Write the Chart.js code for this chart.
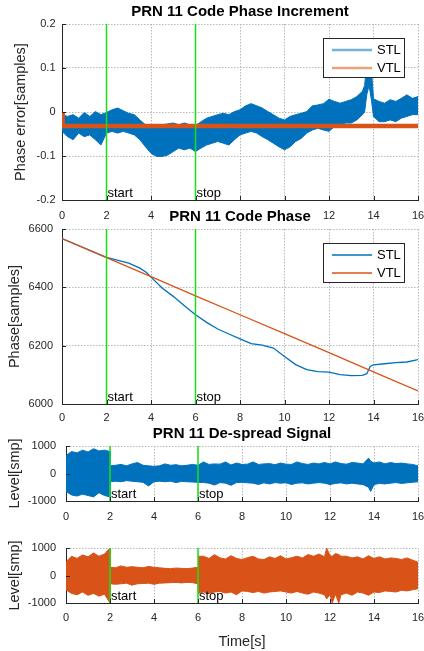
<!DOCTYPE html>
<html>
<head>
<meta charset="utf-8">
<script src="https://cdn.jsdelivr.net/npm/chart.js@4.4.1/dist/chart.umd.min.js"></script>
<style>
  body { margin: 0; background: #fff; width: 424px; height: 651px; position: relative; overflow: hidden; }
  canvas { position: absolute; left: 0; }
</style>
</head>
<body>
<canvas id="c1" width="424" height="230" style="top:0px;width:424px;height:230px"></canvas>
<canvas id="c2" width="424" height="230" style="top:200px;width:424px;height:230px"></canvas>
<canvas id="c3" width="424" height="110" style="top:420px;width:424px;height:110px"></canvas>
<canvas id="c4" width="424" height="121" style="top:530px;width:424px;height:121px"></canvas>
<script>
// ---- data ----
const markerT = [2, 6];
const markerText = ['start', 'stop'];
const legendNames = ['STL', 'VTL'];
const xTicks = [0, 16, 2];

// code phase increment: STL shown as noise envelope (upper / lower), VTL flat
const incT = [0,0.25,0.5,0.75,1,1.25,1.5,1.75,2,2.25,2.5,2.75,3,3.25,3.5,3.75,4,4.25,4.5,4.75,5,5.25,5.5,5.75,6,6.25,6.5,6.75,7,7.25,7.5,7.75,8,8.25,8.5,8.75,9,9.25,9.5,9.75,10,10.25,10.5,10.75,11,11.25,11.5,11.75,12,12.25,12.5,12.75,13,13.25,13.5,13.6,13.7,13.8,13.9,14,14.25,14.5,14.75,15,15.25,15.5,15.75,16];
const incStlHi = [-0.006,-0.010,-0.006,-0.014,-0.001,-0.010,0.001,-0.006,-0.001,0.005,0.009,0.003,-0.003,-0.006,-0.018,-0.029,-0.037,-0.033,-0.029,-0.027,-0.025,-0.029,-0.025,-0.029,-0.031,-0.022,-0.014,-0.010,-0.006,-0.003,-0.006,0.001,0.005,0.014,0.019,0.014,0.009,0.001,-0.006,-0.014,-0.018,-0.010,-0.006,-0.003,0.001,0.014,0.016,0.019,0.029,0.024,0.020,0.024,0.028,0.035,0.047,0.060,0.110,0.120,0.100,0.030,0.024,0.020,0.028,0.024,0.031,0.039,0.031,0.035];
const incStlLo = [-0.044,-0.056,-0.063,-0.048,-0.056,-0.052,-0.063,-0.075,-0.048,-0.044,-0.048,-0.044,-0.048,-0.052,-0.063,-0.079,-0.094,-0.101,-0.101,-0.098,-0.090,-0.082,-0.086,-0.082,-0.090,-0.082,-0.075,-0.071,-0.067,-0.071,-0.075,-0.063,-0.052,-0.048,-0.044,-0.048,-0.056,-0.063,-0.071,-0.079,-0.086,-0.079,-0.067,-0.060,-0.048,-0.041,-0.037,-0.041,-0.044,-0.033,-0.029,-0.025,-0.025,-0.018,-0.006,0.000,0.040,0.060,0.030,-0.010,-0.022,-0.022,-0.018,-0.022,-0.014,-0.010,-0.006,-0.006];
const incVtlT = [0, 0.03, 16];
const incVtl = [0, -0.032, -0.032];

// code phase
const phT = [0,2,3,3.5,3.8,4,4.5,5,5.5,6,6.5,7,7.5,8,8.5,9,9.5,10,10.5,11,11.5,12,12.5,13,13.5,13.7,13.85,14,14.5,15,15.5,16];
const phStl = [6567,6503,6483,6466,6451,6435,6398,6369,6337,6306,6280,6257,6240,6223,6207,6202,6192,6163,6135,6118,6111,6109,6101,6097,6098,6104,6129,6134,6138,6142,6144,6152];
const phVtlT = [0,2,4,6,8,10,12,14,16];
const phVtl = [6567,6502,6437,6371,6306,6241,6176,6110,6045];

// de-spread signal, STL (blue) envelope
const dsStlT = [0,0.25,0.5,0.75,1,1.25,1.5,1.75,2,2.02,2.25,2.5,2.75,3,3.25,3.5,3.75,4,4.25,4.5,4.75,5,5.25,5.5,5.75,6,6.25,6.5,6.75,7,7.25,7.5,7.75,8,8.25,8.5,8.75,9,9.25,9.5,9.75,10,10.25,10.5,10.75,11,11.25,11.5,11.75,12,12.25,12.5,12.75,13,13.25,13.5,13.75,13.85,14,14.25,14.5,14.75,15,15.25,15.5,15.75,16];
const dsStlHi = [650,800,750,850,780,900,820,850,800,280,300,330,280,350,400,300,280,260,280,350,300,320,280,300,330,300,420,330,350,340,420,310,380,330,340,420,330,350,360,320,380,340,330,420,360,330,380,350,400,350,420,360,340,400,380,350,560,450,380,420,350,400,360,380,350,330,280];
const dsStlLo = [-650,-780,-820,-750,-800,-850,-700,-800,-850,-300,-280,-300,-260,-280,-300,-320,-450,-300,-280,-300,-280,-330,-290,-300,-310,-320,-330,-350,-420,-330,-350,-430,-330,-320,-340,-350,-400,-340,-380,-330,-350,-340,-400,-350,-340,-380,-350,-330,-350,-400,-360,-340,-380,-350,-380,-400,-500,-650,-400,-360,-380,-350,-330,-360,-340,-320,-300];

// de-spread signal, VTL (orange) envelope
const dsVtlT = [0,0.25,0.5,0.75,1,1.25,1.5,1.75,2,2.02,2.25,2.5,2.75,3,3.25,3.5,3.75,4,4.25,4.5,4.75,5,5.25,5.5,5.75,6,6.02,6.25,6.5,6.75,7,7.25,7.5,7.75,8,8.25,8.5,8.75,9,9.25,9.5,9.75,10,10.25,10.5,10.75,11,11.25,11.5,11.75,11.85,12,12.1,12.25,12.4,12.5,12.75,13,13.25,13.5,13.75,14,14.25,14.5,14.75,15,15.25,15.5,15.75,16];
const dsVtlHi = [500,700,620,750,680,820,700,780,1000,300,280,350,300,320,300,280,330,300,280,260,250,270,260,250,270,300,700,700,620,760,640,600,720,620,580,650,700,600,580,680,620,720,600,650,700,640,760,700,780,680,1000,720,700,800,760,700,700,640,680,600,720,620,680,600,640,620,580,640,560,480];
const dsVtlLo = [-520,-650,-700,-600,-720,-650,-750,-680,-1000,-300,-320,-300,-280,-350,-300,-290,-280,-320,-280,-270,-260,-250,-270,-250,-260,-300,-650,-600,-650,-600,-580,-640,-600,-700,-560,-580,-620,-580,-640,-600,-580,-560,-600,-640,-580,-640,-680,-600,-640,-700,-850,-700,-1000,-680,-1000,-700,-640,-720,-600,-640,-720,-600,-620,-560,-580,-600,-540,-560,-520,-480];

// ---- styling ----
const FONT = "'Liberation Sans', Arial, sans-serif";
const BLUE = '#0072BD';
const ORANGE = '#D95319';
const GREEN = '#18e018';
const AXIS = '#262626';
const GRID = '#b8b8b8';

function pts(xs, ys) { return xs.map((x, i) => ({ x: x, y: ys[i] })); }

function markerSets(yMin, yMax) {
  return markerT.map(t => ({
    data: [{ x: t, y: yMin }, { x: t, y: yMax }],
    borderColor: GREEN, borderWidth: 1.5, pointRadius: 0, order: 0
  }));
}

function band(xs, hi, lo, color) {
  return [
    { data: pts(xs, hi), borderColor: color, backgroundColor: color, borderWidth: 1, pointRadius: 0, fill: '+1', order: 3 },
    { data: pts(xs, lo), borderColor: color, borderWidth: 1, pointRadius: 0, fill: false, order: 3 }
  ];
}

const decor = {
  id: 'decor',
  afterDraw(chart, args, o) {
    const { ctx, chartArea: a } = chart;
    const x = chart.scales.x, y = chart.scales.y;
    ctx.save();
    // short tick marks pointing into the plot
    ctx.strokeStyle = AXIS;
    ctx.lineWidth = 1;
    ctx.beginPath();
    y.ticks.forEach(t => {
      const p = Math.round(y.getPixelForValue(t.value)) + 0.5;
      ctx.moveTo(a.left, p); ctx.lineTo(a.left + 4, p);
    });
    x.ticks.forEach(t => {
      const p = Math.round(x.getPixelForValue(t.value)) + 0.5;
      ctx.moveTo(p, a.bottom); ctx.lineTo(p, a.bottom - 4);
    });
    ctx.stroke();

    // start / stop labels
    ctx.fillStyle = '#000';
    ctx.font = '13px ' + FONT;
    ctx.textAlign = 'left';
    ctx.textBaseline = 'alphabetic';
    markerT.forEach((t, i) => ctx.fillText(markerText[i], x.getPixelForValue(t) + 1, a.bottom - 3));

    if (o.legend) {
      const bw = 81, bh = 39;
      const bx = a.right - 14 - bw, by = a.top + 14;
      ctx.fillStyle = '#fff';
      ctx.fillRect(bx, by, bw, bh);
      ctx.strokeStyle = AXIS;
      ctx.lineWidth = 1;
      ctx.strokeRect(bx + 0.5, by + 0.5, bw, bh);
      const cols = [BLUE, ORANGE];
      legendNames.forEach((n, i) => {
        const ly = by + 12 + i * 18;
        ctx.globalAlpha = o.legendAlpha;
        ctx.strokeStyle = cols[i];
        ctx.lineWidth = o.legendWidth;
        ctx.beginPath();
        ctx.moveTo(bx + 9, ly); ctx.lineTo(bx + 49, ly);
        ctx.stroke();
        ctx.globalAlpha = 1;
        ctx.fillStyle = '#000';
        ctx.font = '13px ' + FONT;
        ctx.textBaseline = 'middle';
        ctx.fillText(n, bx + 54, ly + 0.5);
      });
    }

    // title, white box behind it hides tick labels of the plot above
    if (o.title) {
      ctx.font = 'bold 15px ' + FONT;
      const w = ctx.measureText(o.title).width;
      const cx = (a.left + a.right) / 2, cy = a.top - 12;
      ctx.fillStyle = '#fff';
      ctx.fillRect(cx - w / 2 - 2, cy - 9, w + 4, 18);
      ctx.fillStyle = '#000';
      ctx.textAlign = 'center';
      ctx.textBaseline = 'middle';
      ctx.fillText(o.title, cx, cy);
    }
    ctx.restore();
  }
};

function xScale(h, pad, withTitle) {
  return {
    type: 'linear', min: xTicks[0], max: xTicks[1],
    ticks: { stepSize: xTicks[2], padding: pad, color: AXIS, font: { family: FONT, size: 11 }, maxRotation: 0, autoSkip: false },
    grid: { color: GRID, drawTicks: false },
    border: { color: AXIS, dash: [1.5, 1.5] },
    title: { display: withTitle, text: 'Time[s]', color: AXIS, font: { family: FONT, size: 14.5 }, padding: { top: 0, bottom: 0.5 } },
    afterFit: s => { s.height = h; s.paddingLeft = 0; s.paddingRight = 0; }
  };
}

function yScale(min, max, step, w, pad, label, labelPad, fmt) {
  return {
    type: 'linear', min: min, max: max,
    ticks: { stepSize: step, padding: pad, color: AXIS, font: { family: FONT, size: 11 }, callback: fmt },
    grid: { color: GRID, drawTicks: false },
    border: { color: AXIS, dash: [1.5, 1.5] },
    title: { display: true, text: label, color: AXIS, font: { family: FONT, size: 14.5 }, padding: { top: labelPad, bottom: 0 } },
    afterFit: s => { s.width = w; s.paddingTop = 0; s.paddingBottom = 0; }
  };
}

function makeChart(id, datasets, x, y, pad, deco) {
  return new Chart(document.getElementById(id), {
    type: 'line',
    data: { datasets: datasets },
    options: {
      responsive: false,
      animation: false,
      events: [],
      layout: { padding: pad },
      scales: { x: x, y: y },
      plugins: { legend: { display: false }, tooltip: { enabled: false }, decor: deco }
    },
    plugins: [decor]
  });
}

makeChart('c1',
  band(incT, incStlHi, incStlLo, BLUE).concat([
    { data: pts(incVtlT, incVtl), borderColor: ORANGE, borderWidth: 4.5, pointRadius: 0, order: 1 }
  ], markerSets(-0.2, 0.2)),
  xScale(30, 9.4, false),
  yScale(-0.2, 0.2, 0.1, 62, 6.5, 'Phase error[samples]', 12.3, v => String(Math.round(v * 10) / 10)),
  { top: 24, left: 0, right: 6, bottom: 0 },
  { title: 'PRN 11 Code Phase Increment', legend: true, legendAlpha: 0.55, legendWidth: 2.5 });

makeChart('c2',
  [
    { data: pts(phT, phStl), borderColor: BLUE, borderWidth: 1.3, pointRadius: 0, order: 2 },
    { data: pts(phVtlT, phVtl), borderColor: ORANGE, borderWidth: 1.3, pointRadius: 0, order: 1 }
  ].concat(markerSets(6000, 6600)),
  xScale(26, 7.4, false),
  yScale(6000, 6600, 200, 62, 9, 'Phase[samples]', 6.3, v => String(v)),
  { top: 29, left: 0, right: 6, bottom: 0 },
  { title: 'PRN 11 Code Phase', legend: true, legendAlpha: 1, legendWidth: 1.3 });

makeChart('c3',
  band(dsStlT, dsStlHi, dsStlLo, BLUE).concat(markerSets(-1000, 1000)),
  xScale(29, 9, false),
  yScale(-1000, 1000, 1000, 66, 10, 'Level[smp]', 5.8, v => String(v)),
  { top: 26, left: 0, right: 6, bottom: 0 },
  { title: 'PRN 11 De-spread Signal', legend: false });

makeChart('c4',
  band(dsVtlT, dsVtlHi, dsVtlLo, ORANGE).concat(markerSets(-1000, 1000)),
  xScale(48, 8.5, true),
  yScale(-1000, 1000, 1000, 66, 10, 'Level[smp]', 5.8, v => String(v)),
  { top: 18, left: 0, right: 6, bottom: 0 },
  { title: '', legend: false });
</script>
</body>
</html>
